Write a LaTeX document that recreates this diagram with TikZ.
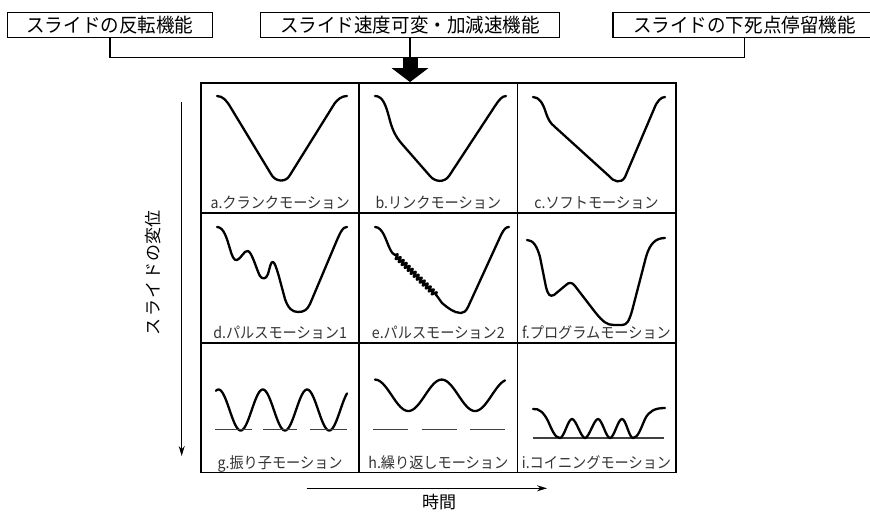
\documentclass[tikz,border=0pt]{standalone}
\usepackage{fontspec}
\setmainfont{Noto Sans CJK JP}
\newfontfamily\labfont[FakeStretch=0.92]{Noto Sans CJK JP}
\newfontfamily\boxfont[FakeStretch=0.95]{Noto Sans CJK JP}
\usetikzlibrary{arrows.meta,calc,decorations.pathmorphing}
\begin{document}
\begin{tikzpicture}[x=1pt,y=-1pt,
  topbox/.style={draw,line width=1.4pt,inner sep=0pt,minimum height=25pt,font=\boxfont\fontsize{19.5}{21}\selectfont},
  cell/.style={draw,line width=1.8pt,inner sep=0pt,minimum width=158.2pt,minimum height=129.8pt},
  lab/.style={inner sep=0pt,anchor=base,text=black!80,font=\labfont\fontsize{15.4}{17}\selectfont},
  conn/.style={line width=1.4pt},
  curve/.style={line width=2.3pt,line cap=round,line join=round},
  refline/.style={line width=1.1pt,black!75},
  axis/.style={line width=1.2pt,-{Stealth[length=10pt,width=6pt]}},
  axlab/.style={inner sep=0pt,font=\fontsize{17}{19}\selectfont}]
\useasboundingbox (0,0) rectangle (870,512);
\fill[white] (0,0) rectangle (870,512);

% top boxes
\node[topbox,minimum width=205pt] (b1) at (109.8,24.8) {スライドの反転機能};
\node[topbox,minimum width=298.6pt] (b2) at (410,24.8) {スライド速度可変・加減速機能};
\node[topbox,minimum width=263pt] (b3) at (744.5,24.8) {スライドの下死点停留機能};

% grid cells
\node[cell] (c11) at (280.1,147.9) {};
\node[cell] (c12) at (438.3,147.9) {};
\node[cell] (c13) at (596.5,147.9) {};
\node[cell] (c21) at (280.1,277.7) {};
\node[cell] (c22) at (438.3,277.7) {};
\node[cell] (c23) at (596.5,277.7) {};
\node[cell] (c31) at (280.1,407.5) {};
\node[cell] (c32) at (438.3,407.5) {};
\node[cell] (c33) at (596.5,407.5) {};

% connectors
\coordinate (j2) at (410,57.5);
\draw[conn] (b1.south) -- (b1.south |- j2) -- (b3.south |- j2) -- (b3.south);
\draw[conn] (b2.south) -- (j2);
\draw[line width=15pt,-{Triangle[length=14pt 0 0,width=36pt 0 0]}] (j2) -- (j2 |- c12.north);

% labels
\node[lab] (la) at ($(c11.south)+(0,-5)$) {a.クランクモーション};
\node[lab] (lb) at ($(c12.south)+(0,-5)$) {b.リンクモーション};
\node[lab] (lc) at ($(c13.south)+(0,-5)$) {c.ソフトモーション};
\node[lab] (ld) at ($(c21.south)+(0,-5)$) {d.パルスモーション1};
\node[lab] (le) at ($(c22.south)+(0,-5)$) {e.パルスモーション2};
\node[lab] (lf) at ($(c23.south)+(0,-5)$) {f.プログラムモーション};
\node[lab] (lg) at ($(c31.south)+(0,-5)$) {g.振り子モーション};
\node[lab] (lh) at ($(c32.south)+(0,-5)$) {h.繰り返しモーション};
\node[lab] (li) at ($(c33.south)+(0,-5)$) {i.コイニングモーション};

% a
\begin{scope}[shift={(200,81)}]
\draw[curve] (17,15) .. controls (23,15) and (27,20) .. (31,27) -- (71,93) .. controls (75,101) and (86,102) .. (90,94) -- (133,25) .. controls (137,18) and (142,15) .. (147,15);
\end{scope}
% b
\begin{scope}[shift={(358,81)}]
\draw[curve] (17,15) .. controls (25,15) and (28,25) .. (31,36) .. controls (34,48) and (37,55) .. (44,63) -- (72,95) .. controls (77,101) and (86,102) .. (91,95) -- (137,25) .. controls (141,19) and (144,15) .. (148,15);
\end{scope}
% c
\begin{scope}[shift={(517,81)}]
\draw[curve] (16,16) .. controls (22,16) and (26,22) .. (29,32) .. controls (31,38) and (33,42) .. (38,46) -- (92,95) .. controls (97,101) and (104,103) .. (108,96) -- (137,28) .. controls (140,20) and (144,16) .. (148,16);
\end{scope}
% d
\begin{scope}[shift={(200,211)}]
\draw[curve] (17,16) .. controls (24,16) and (27,28) .. (30,38) .. controls (32,45) and (34,50) .. (37,49) .. controls (41,48) and (44,39) .. (48,40) .. controls (52,41) and (57,60) .. (60,65) .. controls (62,68) and (66,69) .. (68,63) .. controls (70,56) and (71,50) .. (73,51) .. controls (76,52) and (80,70) .. (85,88) .. controls (88,97) and (92,101) .. (98,101) .. controls (104,101) and (107,99) .. (110,93) -- (137,29) .. controls (141,20) and (143,16) .. (147,16);
\end{scope}
% e
\begin{scope}[shift={(358,211)}]
\draw[curve] (17,16) .. controls (25,16) and (28,30) .. (32,38) .. controls (33,41) and (35,43) .. (37,44);
\draw[curve,decorate,decoration={snake,segment length=4.2pt,amplitude=2.4pt}] (37,44) -- (79,85);
\draw[curve] (79,85) -- (84,92) .. controls (90,97) and (96,102) .. (103,102) .. controls (106,102) and (108,100) .. (110,96) -- (143,24) .. controls (146,18) and (148,16) .. (151,16);
\end{scope}
% f
\begin{scope}[shift={(517,211)}]
\draw[curve] (10,29) .. controls (16,29) and (20,35) .. (23,46) -- (29,76) .. controls (31,84) and (33,86) .. (37,84) -- (49,74) .. controls (52,71) and (55,71) .. (58,75) -- (78,101) .. controls (86,111) and (90,114) .. (97,114) -- (105,114) .. controls (110,114) and (112,110) .. (115,100) -- (129,46) .. controls (133,32) and (139,27) .. (148,27);
\end{scope}
% g
\begin{scope}[shift={(200,343)}]
\draw[curve] plot[domain=16:147,samples=150,smooth] (\x,{67-20.5*cos(8.1264*(\x-18.5))});
\draw[refline] (15,86.5) -- (51.7,86.5);
\draw[refline] (63.3,86.5) -- (96.7,86.5);
\draw[refline] (110,86.5) -- (146.7,86.5);
\end{scope}
% h
\begin{scope}[shift={(358,343)}]
\draw[curve] plot[domain=17:147,samples=150,smooth] (\x,{52.3-15.7*cos(5.3973*(\x-17))});
\draw[refline] (15.3,86.5) -- (50.3,86.5);
\draw[refline] (63.7,86.5) -- (98.7,86.5);
\draw[refline] (112,86.5) -- (147,86.5);
\end{scope}
% i
\begin{scope}[shift={(517,343)}]
\draw[refline] (16,95) -- (146.5,95);
\draw[curve] (16,66) .. controls (22,65) and (27,70) .. (31,78) .. controls (35,87) and (38,95) .. (43,95) .. controls (47,95) and (51,76) .. (55,76) .. controls (59,76) and (64,95) .. (68,95) .. controls (72,95) and (77,76) .. (81,76) .. controls (85,76) and (89,95) .. (93,95) .. controls (97,95) and (101,76) .. (105,76) .. controls (109,76) and (112,95) .. (116,95) .. controls (121,95) and (124,85) .. (128,76) .. controls (132,68) and (138,65) .. (148,65);
\end{scope}

% axes
\coordinate (v0) at (181.7,102);
\coordinate (v1) at (181.7,456);
\draw[axis] (v0) -- (v1);
\node[axlab,rotate=90] (vl) at (153,273) {ス\hspace{1.5pt}ラ\hspace{1.5pt}イ\hspace{1.5pt}ド\hspace{1pt}の変位};
\coordinate (h0) at (306.7,488.3);
\coordinate (h1) at (547,488.3);
\draw[axis] (h0) -- (h1);
\node[axlab] (hl) at (439,502) {時間};
\end{tikzpicture}
\end{document}
